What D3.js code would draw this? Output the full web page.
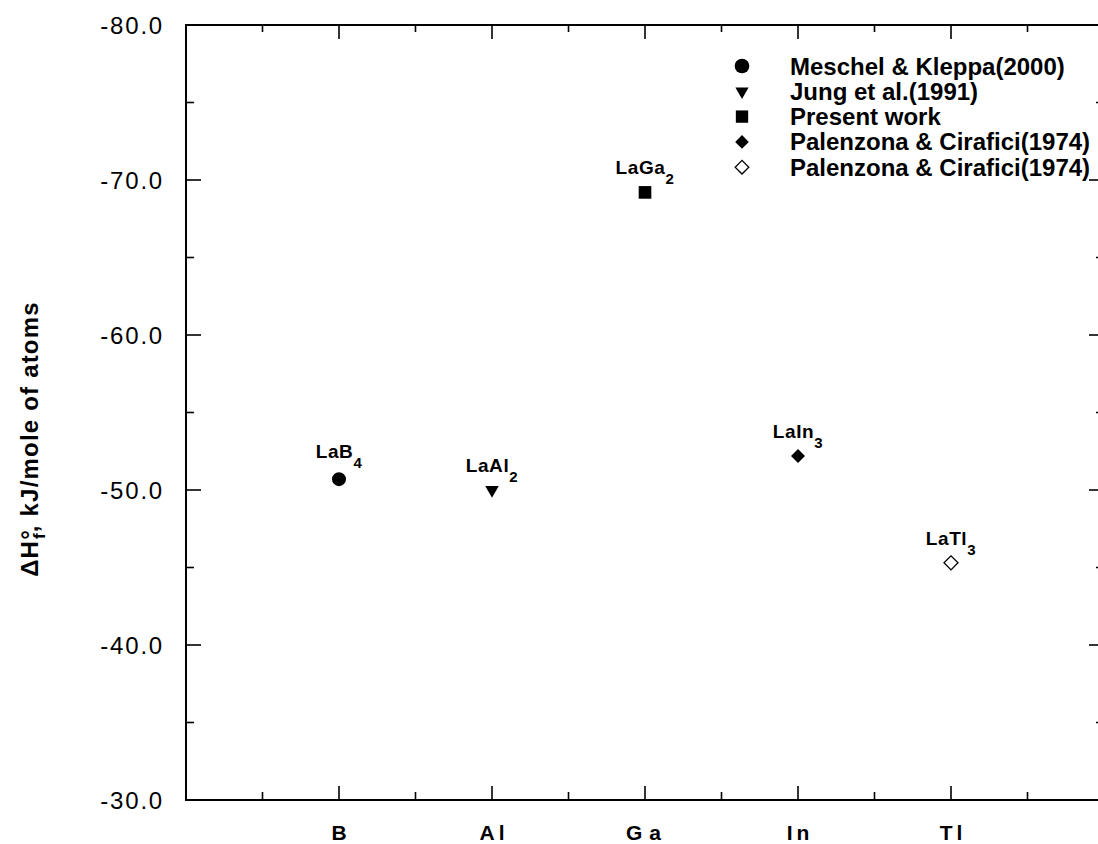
<!DOCTYPE html>
<html>
<head>
<meta charset="utf-8">
<script src="https://cdn.jsdelivr.net/npm/d3@7"></script>
<style>
  html, body { margin: 0; padding: 0; background: #fff; }
  svg { display: block; }
  text { font-family: 'Liberation Sans', Arial, Helvetica, sans-serif; fill: #000; }
</style>
</head>
<body>
<svg id="chart" width="1098" height="844"></svg>
<script>
// ---- data ----
const categories = ["B", "Al", "Ga", "In", "Tl"];
const values = [-50.7, -50.0, -69.2, -52.2, -45.3];
const compoundBase = ["LaB", "LaAl", "LaGa", "LaIn", "LaTl"];
const compoundSub = ["4", "2", "2", "3", "3"];
const seriesNames = ["Meschel & Kleppa(2000)", "Jung et al.(1991)", "Present work",
                     "Palenzona & Cirafici(1974)", "Palenzona & Cirafici(1974)"];
const seriesSymbols = ["circle", "triangleDown", "square", "diamond", "diamondOpen"];
const yTickValues = [-80, -70, -60, -50, -40, -30];
const yMinorValues = [-75, -65, -55, -45, -35];
const xDomain = [0, 6];
const yDomain = [-80, -30];

// ---- layout ----
const svg = d3.select("#chart");
const mLeft = 186, mRight = 1104, mTop = 25, mBottom = 800;
const x = d3.scaleLinear().domain(xDomain).range([mLeft, mRight]);
const y = d3.scaleLinear().domain(yDomain).range([mTop, mBottom]);
const catX = c => x(categories.indexOf(c) + 1);

svg.append("rect").attr("x", mLeft).attr("y", mTop)
  .attr("width", mRight - mLeft).attr("height", mBottom - mTop)
  .attr("fill", "none").attr("stroke", "#000").attr("stroke-width", 2);

// x ticks (bottom & top)
const xMajor = d3.range(1, 6);
const xMinor = d3.range(0.5, 6, 1);
const tickG = svg.append("g").attr("stroke", "#000").attr("stroke-width", 1.6);
xMajor.forEach(v => {
  tickG.append("line").attr("x1", x(v)).attr("x2", x(v)).attr("y1", mBottom).attr("y2", mBottom - 14);
  tickG.append("line").attr("x1", x(v)).attr("x2", x(v)).attr("y1", mTop).attr("y2", mTop + 14);
});
xMinor.forEach(v => {
  tickG.append("line").attr("x1", x(v)).attr("x2", x(v)).attr("y1", mBottom).attr("y2", mBottom - 8);
  tickG.append("line").attr("x1", x(v)).attr("x2", x(v)).attr("y1", mTop).attr("y2", mTop + 7);
});
// y ticks (left & right)
yTickValues.forEach(v => {
  tickG.append("line").attr("x1", mLeft).attr("x2", mLeft + 15).attr("y1", y(v)).attr("y2", y(v));
  tickG.append("line").attr("x1", mRight).attr("x2", mRight - 15).attr("y1", y(v)).attr("y2", y(v));
});
yMinorValues.forEach(v => {
  tickG.append("line").attr("x1", mLeft).attr("x2", mLeft + 8).attr("y1", y(v)).attr("y2", y(v));
  tickG.append("line").attr("x1", mRight).attr("x2", mRight - 8).attr("y1", y(v)).attr("y2", y(v));
});

// y tick labels (ASCII hyphen minus as in the original)
const fmt = d => d3.format(".1f")(d).replace("\u2212", "-");
svg.append("g").selectAll("text").data(yTickValues).join("text")
  .attr("x", 164).attr("y", d => y(d) + 8.5)
  .attr("text-anchor", "end")
  .attr("font-size", 24).attr("letter-spacing", 1.8)
  .text(fmt);

// x category labels
svg.append("g").selectAll("text").data(categories).join("text")
  .attr("x", d => catX(d) + 2).attr("y", 840)
  .attr("text-anchor", "middle")
  .attr("font-size", 21).attr("font-weight", "bold")
  .attr("letter-spacing", d => d === "Ga" ? 7 : 4)
  .text(d => d);

// y axis title
const title = svg.append("text")
  .attr("transform", "translate(38,439) rotate(-90)")
  .attr("text-anchor", "middle")
  .attr("font-size", 24).attr("font-weight", "bold").attr("letter-spacing", 1.2);
title.append("tspan").text("\u0394H\u00B0");
title.append("tspan").attr("font-size", 17).attr("dx", -10).attr("dy", 7).text("f");
title.append("tspan").attr("dy", -7).text(", kJ/mole of atoms");

// symbols
function symbolPath(kind, scale) {
  const s = scale || 1;
  if (kind === "circle") return d3.symbol(d3.symbolCircle, 154 * s)();
  if (kind === "triangleDown") return d3.symbol(d3.symbolTriangle, 80 * s)();
  if (kind === "square") return d3.symbol(d3.symbolSquare, 160 * s)();
  return d3.symbol(d3.symbolSquare, 98 * s)();
}
function symbolTransform(kind) {
  if (kind === "triangleDown") return " rotate(180)";
  if (kind === "diamond" || kind === "diamondOpen") return " rotate(45)";
  return "";
}
function styleSymbol(sel, kind) {
  if (kind === "diamondOpen") sel.attr("fill", "#fff").attr("stroke", "#000").attr("stroke-width", 1.3);
  else sel.attr("fill", "#000").attr("stroke", "none");
}

// data points
const pts = svg.append("g");
categories.forEach((c, i) => {
  const kind = seriesSymbols[i];
  const p = pts.append("path")
    .attr("d", symbolPath(kind))
    .attr("transform", `translate(${catX(c)},${y(values[i])})` + symbolTransform(kind));
  styleSymbol(p, kind);
  const off = kind === "circle" ? 21 : 18;
  const t = pts.append("text")
    .attr("x", catX(c)).attr("y", y(values[i]) - off)
    .attr("text-anchor", "middle")
    .attr("font-size", 19).attr("font-weight", "bold").attr("letter-spacing", 0.6);
  t.append("tspan").text(compoundBase[i]);
  t.append("tspan").attr("font-size", 15).attr("dy", 10).text(compoundSub[i]);
});

// legend
const legend = svg.append("g");
const legendY0 = 66, legendStep = 25.3;
seriesNames.forEach((name, i) => {
  const ly = legendY0 + i * legendStep;
  const kind = seriesSymbols[i];
  const p = legend.append("path")
    .attr("d", symbolPath(kind, kind === "circle" ? 1.1 : 0.95))
    .attr("transform", `translate(742,${ly})` + symbolTransform(kind));
  styleSymbol(p, kind);
  legend.append("text")
    .attr("x", 790).attr("y", ly + 8.5)
    .attr("font-size", 24).attr("font-weight", "bold").attr("letter-spacing", 0)
    .text(name);
});
</script>
</body>
</html>
